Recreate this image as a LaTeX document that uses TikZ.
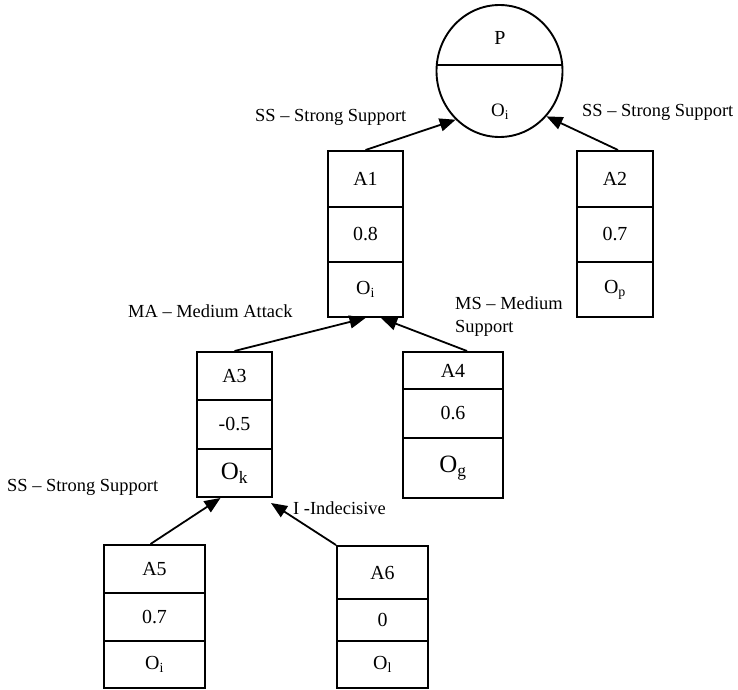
\documentclass[tikz,border=0pt]{standalone}
\usepackage{fontspec}
\setmainfont{Liberation Serif}
\usetikzlibrary{shapes.geometric,arrows.meta,calc}
\begin{document}
\begin{tikzpicture}[x=1bp,y=-1bp,
  cell/.style={draw, line width=2bp, inner sep=0pt, font=\fontsize{20}{22}\selectfont},
  bigo/.style={font=\fontsize{25}{27}\selectfont},
  arr/.style={line width=1.8bp, -{Triangle[length=16bp,width=13bp]}},
  lbl/.style={inner sep=0pt, font=\fontsize{18.5}{23}\selectfont}
]
\useasboundingbox[fill=white] (0,0) rectangle (738,690);

% proposition P, split in two halves
\node[draw, ellipse, line width=1.9bp, minimum width=126bp, minimum height=132bp, inner sep=0pt] (pc) at (499.5,71) {};
\draw[line width=1.9bp] ($(pc.center)+(-62.7,-6)$) -- ($(pc.center)+(62.7,-6)$);
\node[font=\fontsize{20}{22}\selectfont] (pp) at (500,38) {P};
\node[font=\fontsize{19}{21}\selectfont] (po) at (500,112) {O\textsubscript{i}};

% argument A1
\node[cell, minimum width=75bp, minimum height=56bp] (a1t) at (365.5,179) {A1};
\node[cell, minimum width=75bp, minimum height=55bp] (a1m) at (365.5,234.5) {0.8};
\node[cell, minimum width=75bp, minimum height=55bp] (a1b) at (365.5,289.5) {O\textsubscript{i}};

% argument A2
\node[cell, minimum width=76bp, minimum height=56bp] (a2t) at (615,179) {A2};
\node[cell, minimum width=76bp, minimum height=55bp] (a2m) at (615,234.5) {0.7};
\node[cell, minimum width=76bp, minimum height=55bp] (a2b) at (615,289.5) {O\textsubscript{p}};

% argument A3
\node[cell, minimum width=75bp, minimum height=48bp] (a3t) at (234.5,376) {A3};
\node[cell, minimum width=75bp, minimum height=49bp] (a3m) at (234.5,424.5) {-0.5};
\node[cell, bigo, minimum width=75bp, minimum height=48bp] (a3b) at (234.5,473) {O\textsubscript{k}};

% argument A4
\node[cell, minimum width=100bp, minimum height=37bp] (a4t) at (453,370.5) {A4};
\node[cell, minimum width=100bp, minimum height=49bp] (a4m) at (453,413.5) {0.6};
\node[cell, bigo, minimum width=100bp, minimum height=60bp] (a4b) at (453,468) {O\textsubscript{g}};

% argument A5
\node[cell, minimum width=101bp, minimum height=48bp] (a5t) at (154.5,569) {A5};
\node[cell, minimum width=101bp, minimum height=48bp] (a5m) at (154.5,617) {0.7};
\node[cell, minimum width=101bp, minimum height=47bp] (a5b) at (154.5,664.5) {O\textsubscript{i}};

% argument A6
\node[cell, minimum width=91bp, minimum height=53bp] (a6t) at (382.5,572.5) {A6};
\node[cell, minimum width=91bp, minimum height=42bp] (a6m) at (382.5,620) {0};
\node[cell, minimum width=91bp, minimum height=47bp] (a6b) at (382.5,664.5) {O\textsubscript{l}};

% relation labels
\node[lbl, anchor=base west] (l1) at (255,122) {SS – Strong Support};
\node[lbl, anchor=base west] (l2) at (582,117) {SS – Strong Support};
\node[lbl, anchor=base west] (l3) at (128,317) {MA – Medium Attack};
\node[lbl, anchor=north west, align=left] (l4) at (455,297) {MS – Medium\\Support};
\node[lbl, anchor=base west] (l5) at (7,491) {SS – Strong Support};
\node[lbl, anchor=base west] (l6) at (293,514) {I -Indecisive};

% relations
\draw[arr] (a1t.north) -- (pc.228);
\draw[arr] ([xshift=3bp]a2t.north) -- (pc.316);
\draw[arr] (a3t.north) -- (a1b.south);
\draw[arr] ([xshift=14bp]a4t.north) -- ([xshift=15.5bp]a1b.south);
\draw[arr] ([xshift=-4bp]a5t.north) -- ([xshift=-14bp]a3b.south);
\draw[arr] (a6t.north west) -- ($(a3b.south east)+(-2,5)$);
\end{tikzpicture}
\end{document}
